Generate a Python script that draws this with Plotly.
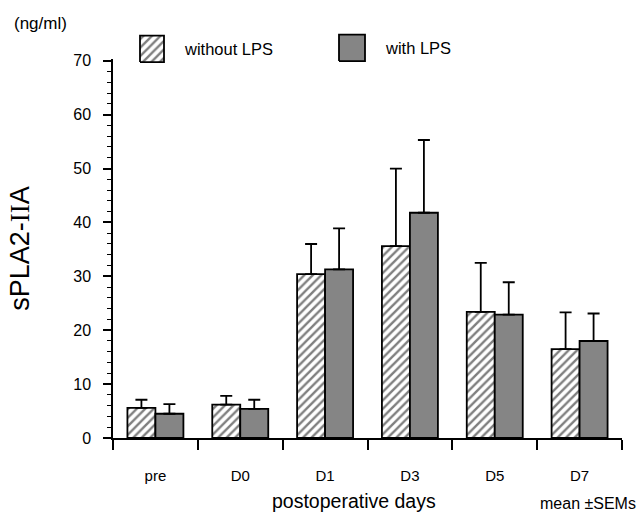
import plotly.graph_objects as go

categories = ["pre", "D0", "D1", "D3", "D5", "D7"]
without_lps = [5.6, 6.2, 30.4, 35.6, 23.4, 16.5]
without_sem = [1.5, 1.6, 5.6, 14.4, 9.1, 6.8]
with_lps = [4.5, 5.4, 31.3, 41.8, 22.9, 18.0]
with_sem = [1.8, 1.7, 7.6, 13.5, 6.0, 5.1]
y_ticks = [0, 10, 20, 30, 40, 50, 60, 70]

FONT = "Arial, Liberation Sans, Noto Sans CJK JP, sans-serif"
GRAY = "#858585"
hatch = dict(shape="/", fgcolor="black", bgcolor="white", size=6, solidity=0.4)

W, H = 642, 518
ml, mr, mt, mb = 113, 20, 0, 80
pw, ph = W - ml - mr, H - mt - mb


def px(x):
    return (x - ml) / pw


def py(y):
    return (ph - (y - mt)) / ph


fig = go.Figure()
fig.add_trace(go.Bar(
    x=categories, y=without_lps, name="without LPS",
    marker=dict(color="white", line=dict(color="black", width=1.8), pattern=hatch),
    error_y=dict(type="data", array=without_sem, arrayminus=[0] * len(without_sem),
                 symmetric=False, color="black", thickness=1.8, width=6),
    showlegend=False,
))
fig.add_trace(go.Bar(
    x=categories, y=with_lps, name="with LPS",
    marker=dict(color=GRAY, line=dict(color="black", width=1.8)),
    error_y=dict(type="data", array=with_sem, arrayminus=[0] * len(with_sem),
                 symmetric=False, color="black", thickness=1.8, width=6),
    showlegend=False,
))


def box(x0, x1, y0, y1):
    return [px(x0), px(x1), px(x1), px(x0), px(x0)], [py(y1), py(y1), py(y0), py(y0), py(y1)]


bx, by = box(140, 164, 29, 56)
fig.add_trace(go.Scatter(x=bx, y=by, mode="lines", fill="toself", fillcolor="white",
                         fillpattern=hatch, line=dict(color="black", width=1.8),
                         xaxis="x2", yaxis="y2", showlegend=False, hoverinfo="skip"))
bx, by = box(339, 365, 28, 55)
fig.add_trace(go.Scatter(x=bx, y=by, mode="lines", fill="toself", fillcolor=GRAY,
                         line=dict(color="black", width=1.8),
                         xaxis="x2", yaxis="y2", showlegend=False, hoverinfo="skip"))

annotations = [
    dict(text="(ng/ml)", x=px(12), y=py(17), xanchor="left", yanchor="middle", size=17),
    dict(text="without LPS", x=px(182), y=py(43), xanchor="left", yanchor="middle", size=16.5),
    dict(text="with LPS", x=px(383), y=py(42), xanchor="left", yanchor="middle", size=16.5),
    dict(text="postoperative days", x=px(354), y=py(502), xanchor="center", yanchor="middle", size=19.5),
    dict(text="mean \u00b1SEMs", x=px(588), y=py(505), xanchor="center", yanchor="middle", size=16),
]
fig.update_layout(annotations=[
    dict(text=a["text"], x=a["x"], y=a["y"], xref="paper", yref="paper",
         xanchor=a["xanchor"], yanchor=a["yanchor"], showarrow=False,
         font=dict(family=FONT, size=a["size"], color="black"))
    for a in annotations
])

fig.update_layout(
    width=W, height=H,
    margin=dict(l=ml, r=mr, t=mt, b=mb),
    paper_bgcolor="white", plot_bgcolor="rgba(0,0,0,0)",
    barmode="group", bargap=0.34, bargroupgap=0.0,
    font=dict(family=FONT, color="black"),
    xaxis=dict(
        type="category", range=[-0.5, 5.5], tickson="boundaries",
        ticks="outside", ticklen=10, tickwidth=1.5, tickcolor="black",
        showline=True, linecolor="black", linewidth=1.5,
        showgrid=False, zeroline=False,
        tickfont=dict(size=15, family=FONT), ticklabelstandoff=23,
    ),
    yaxis=dict(
        domain=[0, (ph - 53) / ph], range=[0, 70.3],
        tickvals=y_ticks, ticktext=[str(v) for v in y_ticks],
        ticks="outside", ticklen=8, tickwidth=1.5, tickcolor="black",
        minor=dict(dtick=2, ticks="outside", ticklen=4, tickwidth=1.2, tickcolor="black"),
        showline=True, linecolor="black", linewidth=1.5,
        showgrid=False, zeroline=False,
        tickfont=dict(size=16, family=FONT), ticklabelstandoff=9,
        title=dict(text="sPLA2-<span style='font-family:Liberation Serif'>II</span>A",
                   font=dict(size=27, family=FONT), standoff=36),
    ),
    xaxis2=dict(domain=[0, 1], range=[0, 1], anchor="y2", visible=False, fixedrange=True),
    yaxis2=dict(domain=[0, 1], range=[0, 1], anchor="x2", visible=False, fixedrange=True),
)

fig.write_html("out.html")
